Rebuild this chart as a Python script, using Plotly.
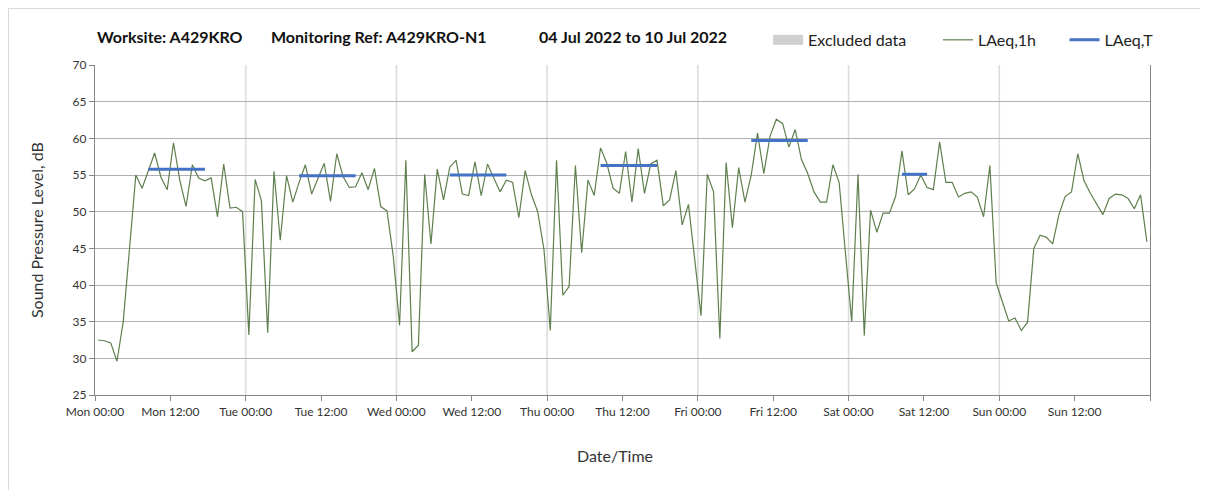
import plotly.graph_objects as go
import pandas as pd

# ---------------- data ----------------
# hourly LAeq,1h values, Mon 04 Jul 2022 00:00 -> Sun 10 Jul 2022 23:00 (plotted at mid-hour)
laeq_1h = [
    32.5, 32.4, 32.1, 29.6, 35.0, 45.0, 55.0, 53.2, 55.7, 58.0, 54.7, 53.0, 59.4, 54.3, 50.7, 56.4,
    54.6, 54.2, 54.6, 49.3, 56.5, 50.5, 50.6, 50.0,
    33.2, 54.4, 51.5, 33.5, 55.5, 46.1, 54.9, 51.3, 54.0, 56.4, 52.4, 54.6, 56.6, 51.4, 57.9, 54.8,
    53.3, 53.4, 55.3, 53.0, 55.9, 50.7, 50.1, 43.9,
    34.5, 57.0, 30.9, 31.8, 55.1, 45.6, 55.8, 51.6, 56.1, 57.0, 52.4, 52.2, 56.8, 52.2, 56.5, 54.6,
    52.7, 54.3, 54.0, 49.2, 55.6, 52.3, 50.0, 44.8,
    33.8, 57.0, 38.6, 39.8, 56.3, 44.4, 54.3, 52.2, 58.7, 56.6, 53.2, 52.5, 58.2, 51.3, 58.6, 52.5,
    56.5, 57.0, 50.8, 51.6, 55.6, 48.2, 51.0, 43.5,
    35.8, 55.1, 52.7, 32.7, 56.7, 47.8, 56.0, 51.3, 55.0, 60.7, 55.2, 60.3, 62.6, 62.0, 58.8, 61.2,
    57.1, 55.2, 52.7, 51.3, 51.3, 56.4, 54.0, 44.4,
    35.0, 55.1, 33.1, 50.2, 47.2, 49.8, 49.8, 52.1, 58.3, 52.3, 53.1, 55.0, 53.3, 53.0, 59.5, 54.0,
    54.0, 52.0, 52.5, 52.7, 52.0, 49.3, 56.3, 40.3,
    37.7, 35.1, 35.5, 33.8, 34.9, 45.0, 46.8, 46.5, 45.6, 49.6, 52.1, 52.7, 57.9, 54.2, 52.5, 51.1,
    49.6, 51.8, 52.4, 52.3, 51.8, 50.4, 52.3, 45.9,
]
times = pd.date_range("2022-07-04 00:30", periods=len(laeq_1h), freq="h")

# LAeq,T periods (index of first/last hourly point) and values
laeq_t_start = [8, 32, 56, 80, 104, 128]
laeq_t_end = [17, 41, 65, 89, 113, 132]
laeq_t_values = [55.8, 54.9, 55.0, 56.3, 59.7, 55.1]

tick_times = pd.date_range("2022-07-04 00:00", "2022-07-11 00:00", freq="12h")
tick_labels = ["Mon 00:00", "Mon 12:00", "Tue 00:00", "Tue 12:00", "Wed 00:00", "Wed 12:00",
               "Thu 00:00", "Thu 12:00", "Fri 00:00", "Fri 12:00", "Sat 00:00", "Sat 12:00",
               "Sun 00:00", "Sun 12:00", ""]
day_starts = pd.date_range("2022-07-05 00:00", periods=6, freq="D")

FONT = "Lato"

# ---------------- figure ----------------
fig = go.Figure()

fig.add_trace(go.Scatter(x=[None], y=[None], mode="lines", name="Excluded data",
                         line=dict(color="#d0d0d0", width=10), legend="legend",
                         showlegend=True, hoverinfo="skip"))

fig.add_trace(go.Scatter(x=times, y=laeq_1h, mode="lines", name="LAeq,1h",
                         line=dict(color="#5f7f4e", width=1.2), legend="legend2"))

tx, ty = [], []
for s, e, v in zip(laeq_t_start, laeq_t_end, laeq_t_values):
    tx += [times[s], times[e], None]
    ty += [v, v, None]
fig.add_trace(go.Scatter(x=tx, y=ty, mode="lines", name="LAeq,T",
                         line=dict(color="#4472c4", width=3), legend="legend3"))

shapes = []
for d in day_starts:
    shapes.append(dict(type="line", xref="x", yref="paper", x0=d, x1=d, y0=0, y1=1,
                       line=dict(color="#dcdcdc", width=1.6), layer="below"))
# chart-area border (left and top edges visible)
shapes.append(dict(type="rect", xref="paper", yref="paper", x0=-0.082, x1=1.08,
                   y0=-0.35, y1=1.1712, line=dict(color="#d9d9d9", width=1)))

legend_common = dict(orientation="h", yanchor="middle", y=1.076, xanchor="left",
                     font=dict(family=FONT, size=16, color="#222"),
                     bgcolor="rgba(0,0,0,0)", borderwidth=0)

fig.update_layout(
    width=1208, height=490,
    margin=dict(l=87, r=66, t=57, b=103),
    paper_bgcolor="white", plot_bgcolor="white",
    font=dict(family=FONT, color="#333"),
    showlegend=True,
    legend=dict(x=0.638, **legend_common),
    legend2=dict(x=0.799, **legend_common),
    legend3=dict(x=0.919, **legend_common),
    xaxis=dict(
        type="date", automargin=False,
        range=["2022-07-04 00:00", "2022-07-11 00:00"],
        tickmode="array", tickvals=tick_times, ticktext=tick_labels,
        ticks="outside", ticklen=5, tickcolor="#868686",
        showline=True, linecolor="#868686", linewidth=1.3,
        showgrid=False, zeroline=False,
        tickfont=dict(family=FONT, size=12, color="#333"),
    ),
    yaxis=dict(
        automargin=False,
        range=[25, 70], dtick=5, tick0=25,
        ticks="outside", ticklen=5, tickcolor="#868686",
        showline=True, linecolor="#868686", linewidth=1.3, mirror=True,
        showgrid=True, gridcolor="#b0b0b0", gridwidth=1, zeroline=False,
        tickfont=dict(family=FONT, size=12, color="#333"),
    ),
    shapes=shapes,
    annotations=[
        dict(text="<b>Worksite: A429KRO</b>", x=0.0, y=1.085, xref="paper", yref="paper",
             xanchor="left", yanchor="middle", showarrow=False,
             font=dict(family=FONT, size=16, color="#111")),
        dict(text="<b>Monitoring Ref: A429KRO-N1</b>", x=0.165, y=1.085, xref="paper", yref="paper",
             xanchor="left", yanchor="middle", showarrow=False,
             font=dict(family=FONT, size=16, color="#111")),
        dict(text="<b>04 Jul 2022 to 10 Jul 2022</b>", x=0.419, y=1.085, xref="paper", yref="paper",
             xanchor="left", yanchor="middle", showarrow=False,
             font=dict(family=FONT, size=16, color="#111")),
        dict(text="Sound Pressure Level, dB", x=-0.0559, y=0.5, xref="paper", yref="paper",
             textangle=-90, xanchor="center", yanchor="middle", showarrow=False,
             font=dict(family=FONT, size=16, color="#333")),
        dict(text="Date/Time", x=0.493, y=-0.182, xref="paper", yref="paper",
             xanchor="center", yanchor="middle", showarrow=False,
             font=dict(family=FONT, size=16, color="#333")),
    ],
)

fig.write_html("out.html")
